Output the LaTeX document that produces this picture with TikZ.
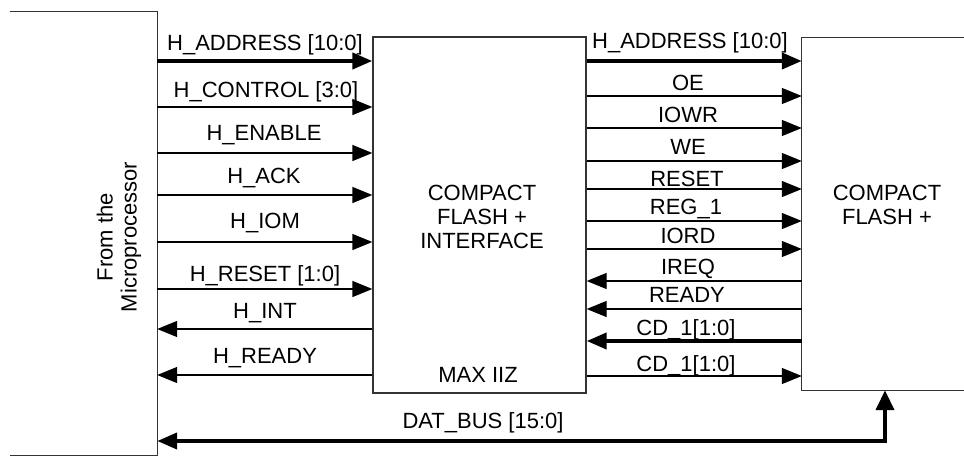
\documentclass[tikz,border=0pt]{standalone}
\usepackage{fontspec}
\setmainfont{Liberation Sans}
\usetikzlibrary{arrows.meta}
\begin{document}
\begin{tikzpicture}[x=1pt,y=-1pt,
  sig/.style={line width=1.3pt},
  bus/.style={line width=4pt},
  tip/.style={-{Triangle[length=20pt,width=16pt]}},
  boxline/.style={line width=1.3pt,draw=black!80},
  lbl/.style={font=\fontsize{22}{24}\selectfont, anchor=base, inner sep=0pt},
  txt/.style={font=\fontsize{22}{24}\selectfont, align=center, inner sep=0pt}]
\useasboundingbox (0,0) rectangle (964,458);
% blocks
\node[minimum width=147pt, minimum height=443pt, inner sep=0pt] (lb) at (83.5,233.5) {};
\node[boxline, draw, minimum width=213pt, minimum height=356pt, inner sep=0pt] (mb) at (479.5,215) {};
\node[minimum width=170pt, minimum height=352pt, inner sep=0pt] (rb) at (887,214) {};
\draw[boxline] (lb.north west) -- (lb.north east) -- (lb.south east) -- (lb.south west);
\draw[boxline] (rb.north east) -- (rb.north west) -- (rb.south west) -- (rb.south east);
% block texts
\node[txt, rotate=90] (lbt) at (119,237) {From the\\Microprocessor};
\node[txt] (mbt) at (482,217) {COMPACT\\FLASH +\\INTERFACE};
\node[lbl] (mbm) at (478,382) {MAX IIZ};
\node[txt] (rbt) at (887,205) {COMPACT\\FLASH +};
% left signals
\draw[bus,tip] (lb.east |- 0,61) -- (mb.west |- 0,61);
\draw[sig,tip] (lb.east |- 0,107) -- (mb.west |- 0,107);
\draw[sig,tip] (lb.east |- 0,153) -- (mb.west |- 0,153);
\draw[sig,tip] (lb.east |- 0,195) -- (mb.west |- 0,195);
\draw[sig,tip] (lb.east |- 0,242) -- (mb.west |- 0,242);
\draw[sig,tip] (lb.east |- 0,289) -- (mb.west |- 0,289);
\draw[sig,tip] (mb.west |- 0,329) -- (lb.east |- 0,329);
\draw[sig,tip] (mb.west |- 0,375) -- (lb.east |- 0,375);
\node[lbl] (l1) at (265,50) {H\_ADDRESS [10:0]};
\node[lbl] (l2) at (266,97) {H\_CONTROL [3:0]};
\node[lbl] (l3) at (264,140) {H\_ENABLE};
\node[lbl] (l4) at (264,183) {H\_ACK};
\node[lbl] (l5) at (265,228) {H\_IOM};
\node[lbl] (l6) at (265,281) {H\_RESET [1:0]};
\node[lbl] (l7) at (265,318) {H\_INT};
\node[lbl] (l8) at (265,363) {H\_READY};
% right signals
\draw[bus,tip] (mb.east |- 0,61) -- (rb.west |- 0,61);
\draw[sig,tip] (mb.east |- 0,96) -- (rb.west |- 0,96);
\draw[sig,tip] (mb.east |- 0,128) -- (rb.west |- 0,128);
\draw[sig,tip] (mb.east |- 0,161) -- (rb.west |- 0,161);
\draw[sig,tip] (mb.east |- 0,189) -- (rb.west |- 0,189);
\draw[sig,tip] (mb.east |- 0,221) -- (rb.west |- 0,221);
\draw[sig,tip] (mb.east |- 0,249) -- (rb.west |- 0,249);
\draw[sig,tip] (rb.west |- 0,281) -- (mb.east |- 0,281);
\draw[sig,tip] (rb.west |- 0,309) -- (mb.east |- 0,309);
\draw[bus,tip] (rb.west |- 0,341) -- (mb.east |- 0,341);
\draw[sig,tip] (mb.east |- 0,376) -- (rb.west |- 0,376);
\node[lbl] (r1) at (690,48) {H\_ADDRESS [10:0]};
\node[lbl] (r2) at (688,90) {OE};
\node[lbl] (r3) at (688,122) {IOWR};
\node[lbl] (r4) at (688,154) {WE};
\node[lbl] (r5) at (687,186) {RESET};
\node[lbl] (r6) at (686,214) {REG\_1};
\node[lbl] (r7) at (688,243) {IORD};
\node[lbl] (r8) at (688,274) {IREQ};
\node[lbl] (r9) at (687,302) {READY};
\node[lbl] (r10) at (686,335) {CD\_1[1:0]};
\node[lbl] (r11) at (686,371) {CD\_1[1:0]};
% data bus
\coordinate (db) at (885,441);
\draw[bus,line join=miter,{Triangle[length=20pt,width=16pt]}-{Triangle[length=20pt,width=18pt]}] (lb.east |- db) -| (rb.south -| db);
\node[lbl] (dbl) at (483,428) {DAT\_BUS [15:0]};
\end{tikzpicture}
\end{document}
